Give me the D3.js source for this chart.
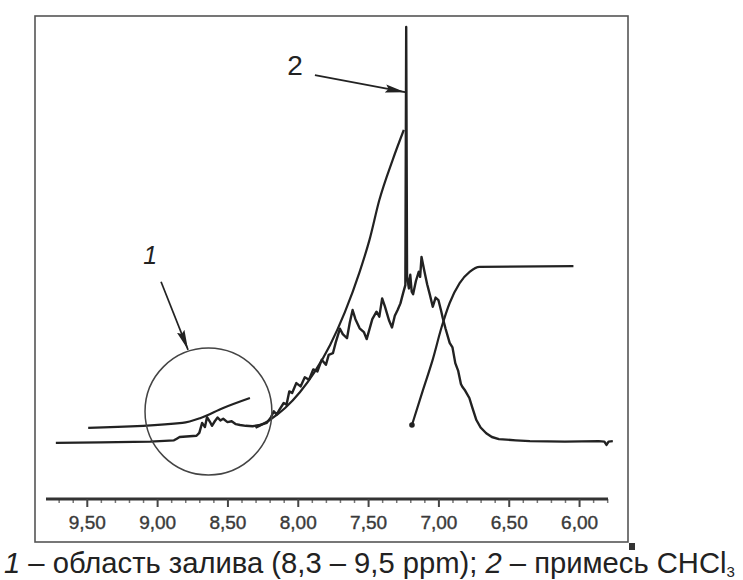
<!DOCTYPE html>
<html>
<head>
<meta charset="utf-8">
<script src="https://cdn.jsdelivr.net/npm/d3@7"></script>
<style>
  body { margin: 0; background: #fff; }
  svg { display: block; font-family: "Liberation Sans", Arial, sans-serif; }
</style>
</head>
<body>
<svg id="chart" width="743" height="580"></svg>
<script>
// spectrum (ppm, relative intensity)
var specPpm = [9.72, 9.40, 9.05, 8.88, 8.86, 8.84, 8.72, 8.70, 8.68, 8.66, 8.645, 8.62, 8.61, 8.59, 8.57, 8.55, 8.53, 8.50, 8.47, 8.44,
    8.41, 8.37, 8.32, 8.27, 8.22, 8.19, 8.17, 8.15, 8.13, 8.10, 8.08, 8.06, 8.04, 8.01, 7.98, 7.95, 7.92, 7.89, 7.86, 7.83,
    7.80, 7.78, 7.75, 7.73, 7.70, 7.68, 7.65, 7.63, 7.61, 7.59, 7.56, 7.53, 7.51, 7.49, 7.47, 7.44, 7.42, 7.40, 7.38, 7.35,
    7.33, 7.31, 7.29, 7.27, 7.25, 7.235, 7.229, 7.223, 7.21, 7.20, 7.19, 7.18, 7.16, 7.14, 7.13, 7.12, 7.10, 7.08, 7.06, 7.04,
    7.02, 7.00, 6.98, 6.97, 6.95, 6.92, 6.90, 6.88, 6.86, 6.84, 6.83, 6.81, 6.78, 6.76, 6.73, 6.70, 6.66, 6.62, 6.57, 6.45,
    6.35, 6.10, 5.86, 5.82, 5.805, 5.79, 5.76];
var specInt = [-0.2, -0.1, 0.1, 0.4, 0.8, 1.2, 1.5, 2.2, 4.6, 3.6, 6.0, 4.6, 3.9, 5.0, 5.9, 5.2, 5.6, 4.8, 5.0, 4.3,
    4.1, 3.9, 3.8, 4.1, 4.6, 6.0, 7.4, 6.6, 7.8, 9.4, 9.0, 12.2, 11.8, 14.2, 13.4, 15.6, 15.0, 17.5, 17.0, 19.8,
    18.6, 21.0, 21.4, 24.0, 27.3, 26.0, 25.0, 28.8, 31.8, 29.6, 27.4, 26.5, 24.8, 27.2, 29.6, 31.4, 30.2, 34.6, 32.6, 29.2,
    27.6, 30.4, 31.8, 33.4, 36.0, 37.8, 100, 40.0, 37.0, 40.3, 36.2, 35.6, 38.8, 41.0, 39.8, 44.6, 41.2, 38.0, 35.4, 32.6,
    34.8, 34.2, 31.5, 30.0, 27.4, 23.9, 22.8, 19.0, 17.2, 14.0, 13.3, 12.4, 10.6, 8.4, 5.3, 3.5, 2.1, 1.2, 0.7, 0.4,
    0.2, 0.1, 0.2, 0.1, -0.7, 0.1, 0.2];

// integral curves
var int1Ppm = [9.49, 8.82, 8.69, 8.53, 8.34];
var int1Val = [3.4, 4.6, 5.8, 8.2, 10.6];
var int2Ppm = [8.30, 8.20, 8.09, 7.985, 7.88, 7.77, 7.665, 7.56, 7.49, 7.42, 7.325, 7.246];
var int2Val = [3.4, 5.3, 8.2, 12.0, 16.9, 23.4, 31.3, 41.0, 48.7, 58.3, 68.0, 75.2];
var int3Ppm = [7.188, 7.11, 7.041, 6.977, 6.92, 6.849, 6.778, 6.707, 6.04];
var int3Val = [4.1, 12.5, 19.8, 27.7, 33.5, 38.3, 41.0, 42.2, 42.4];

// axis ticks
var majorTicks = [9.5, 9.0, 8.5, 8.0, 7.5, 7.0, 6.5, 6.0];
var tickLabels = ["9,50", "9,00", "8,50", "8,00", "7,50", "7,00", "6,50", "6,00"];
var minorTicks = [9.7, 9.6, 9.4, 9.3, 9.2, 9.1, 8.9, 8.8, 8.7, 8.6, 8.4, 8.3, 8.2, 8.1, 7.9, 7.8, 7.7, 7.6,
    7.4, 7.3, 7.2, 7.1, 6.9, 6.8, 6.7, 6.6, 6.4, 6.3, 6.2, 6.1, 5.9, 5.8];

// annotations (ppm, intensity)
var circle1 = [8.635, 7.35, 0.451];          // centre ppm, centre intensity, radius in ppm
var label1 = [9.05, 45.1, "1"];
var arrow1 = [[8.972, 38.6], [8.78, 22.2]];
var label2 = [8.02, 90.8, "2"];
var arrow2 = [[7.878, 88.4], [7.236, 84.3]];

var svg = d3.select("#chart");
var ink = "#222";

var x = d3.scaleLinear().domain([9.79, 5.78]).range([46, 610]);
var y = d3.scaleLinear().domain([0, 100]).range([442, 27]);

// frame
svg.append("rect")
    .attr("x", 35).attr("y", 16)
    .attr("width", 593).attr("height", 526)
    .attr("fill", "none")
    .attr("stroke", "#555")
    .attr("stroke-width", 1.6);
svg.append("rect")
    .attr("x", 629).attr("y", 543)
    .attr("width", 6).attr("height", 7)
    .attr("fill", "#333");

svg.append("defs").append("marker")
    .attr("id", "arrowhead")
    .attr("viewBox", "0 0 20 10")
    .attr("refX", 20).attr("refY", 5)
    .attr("markerWidth", 20).attr("markerHeight", 10)
    .attr("markerUnits", "userSpaceOnUse")
    .attr("orient", "auto")
    .append("path")
    .attr("d", "M0,1 L20,5 L0,9 L3,5 z")
    .attr("fill", ink);

function zipPts(xs, ys) {
    return xs.map(function(d, i) { return [d, ys[i]]; });
}

var line = d3.line()
    .x(function(d) { return x(d[0]); })
    .y(function(d) { return y(d[1]); });

// spectrum and integrals
svg.append("path")
    .attr("d", line(zipPts(specPpm, specInt)))
    .attr("fill", "none")
    .attr("stroke", ink)
    .attr("stroke-width", 2.4)
    .attr("stroke-linejoin", "round");

var smooth = d3.line()
    .x(function(d) { return x(d[0]); })
    .y(function(d) { return y(d[1]); })
    .curve(d3.curveMonotoneX);

[[int1Ppm, int1Val], [int2Ppm, int2Val], [int3Ppm, int3Val]].forEach(function(c) {
    var pts = zipPts(c[0], c[1]).sort(function(a, b) { return a[0] - b[0]; });
    svg.append("path")
        .attr("d", smooth(pts))
        .attr("fill", "none")
        .attr("stroke", ink)
        .attr("stroke-width", 2.2);
});
// blob at start of the third integral
svg.append("circle")
    .attr("cx", x(int3Ppm[0])).attr("cy", y(int3Val[0]))
    .attr("r", 2.8).attr("fill", ink);

// region 1 circle
svg.append("circle")
    .attr("cx", x(circle1[0]))
    .attr("cy", y(circle1[1]))
    .attr("r", x(circle1[0] - circle1[2]) - x(circle1[0]))
    .attr("fill", "none")
    .attr("stroke", "#444")
    .attr("stroke-width", 1.5);

// arrows + labels
[arrow1, arrow2].forEach(function(a) {
    svg.append("line")
        .attr("x1", x(a[0][0])).attr("y1", y(a[0][1]))
        .attr("x2", x(a[1][0])).attr("y2", y(a[1][1]))
        .attr("stroke", ink)
        .attr("stroke-width", 1.7)
        .attr("marker-end", "url(#arrowhead)");
});
svg.append("text")
    .attr("x", x(label1[0])).attr("y", y(label1[1]))
    .attr("dy", "0.35em")
    .attr("text-anchor", "middle")
    .attr("font-size", 25)
    .attr("font-style", "italic")
    .attr("fill", ink)
    .text(label1[2]);
svg.append("text")
    .attr("x", x(label2[0])).attr("y", y(label2[1]))
    .attr("dy", "0.35em")
    .attr("text-anchor", "middle")
    .attr("font-size", 28)
    .attr("fill", ink)
    .text(label2[2]);

// ppm axis
var axisG = svg.append("g").attr("transform", "translate(0,499)");
axisG.call(d3.axisBottom(x).tickValues(minorTicks).tickSize(4).tickSizeOuter(0).tickFormat(""));
axisG.selectAll(".tick line").attr("stroke", "#777").attr("stroke-width", 1.5);
axisG.select(".domain").remove();

var majorG = svg.append("g").attr("transform", "translate(0,499)");
majorG.call(d3.axisBottom(x).tickValues(majorTicks).tickSize(8).tickSizeOuter(0).tickPadding(9)
    .tickFormat(function(d, i) { return tickLabels[i]; }));
majorG.select(".domain").attr("stroke", "#333").attr("stroke-width", 3).attr("d", "M46,0H608");
majorG.selectAll(".tick line").attr("stroke", "#444").attr("stroke-width", 2);
majorG.selectAll(".tick text")
    .attr("font-family", "'Liberation Sans', Arial, sans-serif")
    .attr("font-size", 19)
    .attr("fill", "#3a3a3a")
    .attr("stroke", "#3a3a3a")
    .attr("stroke-width", 0.4);

// caption
var cap = svg.append("text")
    .attr("x", 4).attr("y", 573)
    .attr("font-size", 22)
    .attr("fill", "#222");
cap.append("tspan").attr("font-style", "italic").text("1");
cap.append("tspan").text(" – область залива (8,3 – 9,5 ppm); ");
cap.append("tspan").attr("font-style", "italic").text("2");
cap.append("tspan").text(" – примесь CHCl");
cap.append("tspan").attr("font-size", 15).attr("dy", 4).text("3");

var w = cap.node().getComputedTextLength();
cap.attr("font-size", 22 * 734 / w);
</script>
</body>
</html>
